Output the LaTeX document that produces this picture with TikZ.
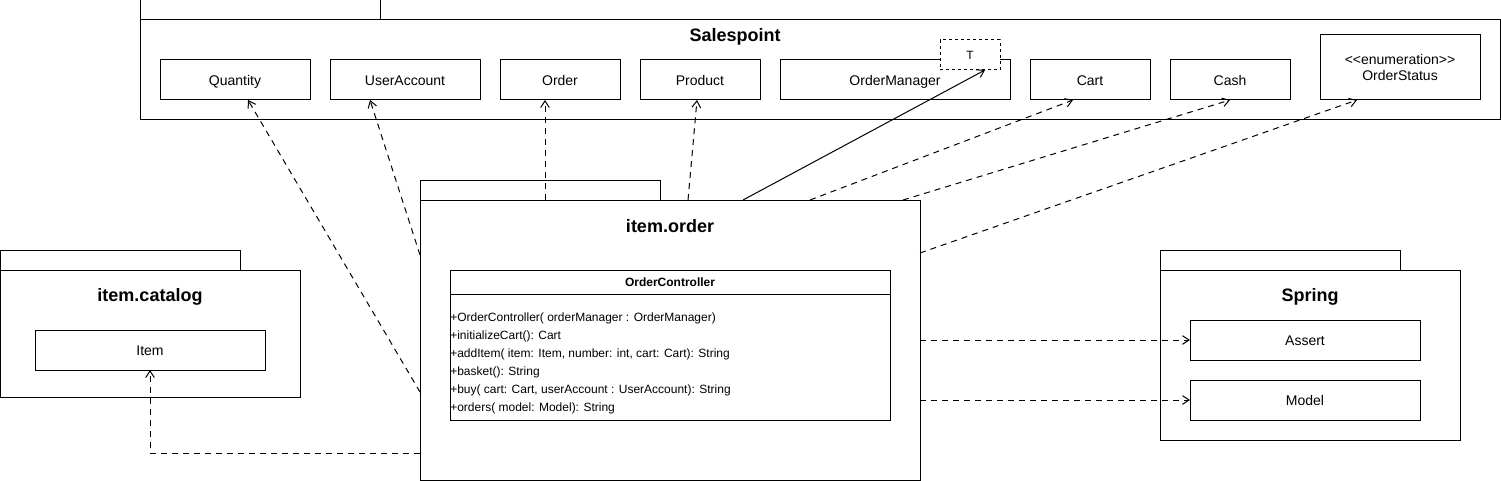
\documentclass[tikz,border=0pt]{standalone}
\usepackage{fontspec}
\setmainfont{Liberation Sans}
\usetikzlibrary{arrows.meta,calc}
\begin{document}
\begin{tikzpicture}[x=0.75pt,y=-0.75pt,
  lw/.style={line width=0.75pt},
  sz/.style 2 args={minimum width=#1*0.75pt,minimum height=#2*0.75pt},
  box/.style={draw,lw,rectangle,inner sep=0pt,outer sep=0pt,fill=white,align=center,
    font=\fontsize{10.5pt}{12.6pt}\selectfont},
  onel/.style={text height=10.6pt,text depth=2.2pt},
  pkgtitle/.style={inner sep=0pt,font=\bfseries\fontsize{13.5pt}{16pt}\selectfont},
  dep/.style={lw,dash pattern=on 4.5pt off 3.75pt,
    -{Straight Barb[length=5pt,width=6.5pt,line width=0.75pt]}},
  assoc/.style={lw,-{Straight Barb[length=5pt,width=6.5pt,line width=0.75pt]}},
  tparam/.style={box,dash pattern=on 2.25pt off 2.25pt,font=\fontsize{9pt}{11pt}\selectfont,
    text height=8.6pt,text depth=1.9pt}
]
\useasboundingbox (0,0) rectangle (1501,481);

% ---------- Salespoint package ----------
\node[box,sz={240}{20}] (sptab) at (260,10) {};
\node[box,sz={1360}{100}] (sp) at (820,70) {};
\node[pkgtitle] (sptitle) at (735,37) {Salespoint};
\node[box,onel,sz={150}{40}] (qty) at (235,80) {Quantity};
\node[box,onel,sz={150}{40}] (ua) at (405,80) {UserAccount};
\node[box,onel,sz={120}{40}] (ord) at (560,80) {Order};
\node[box,onel,sz={120}{40}] (prod) at (700,80) {Product};
\node[box,onel,sz={230}{40}] (om) at (895,80) {OrderManager};
\node[tparam,sz={60}{30}] (tbox) at (970,55) {T};
\node[box,onel,sz={120}{40}] (cart) at (1090,80) {Cart};
\node[box,onel,sz={120}{40}] (cash) at (1230,80) {Cash};
\node[box,sz={160}{65}] (os) at (1400,67.5) {<\kern0pt<enumeration>\kern0pt>\\OrderStatus};

% ---------- item.catalog package ----------
\node[box,sz={240}{20}] (cattab) at (120,260) {};
\node[box,sz={300}{127}] (cat) at (150,333.5) {};
\node[pkgtitle] (cattitle) at (150,297) {item.catalog};
\node[box,onel,sz={230}{40}] (item) at (150,350) {Item};

% ---------- Spring package ----------
\node[box,sz={240}{20}] (sprtab) at (1280,260) {};
\node[box,sz={300}{170}] (spr) at (1310,355) {};
\node[pkgtitle] (sprtitle) at (1310,297) {Spring};
\node[box,onel,sz={230}{40}] (assert) at (1305,340) {Assert};
\node[box,onel,sz={230}{40}] (model) at (1305,400) {Model};

% ---------- item.order package ----------
\node[box,sz={240}{20}] (iotab) at (540,190) {};
\node[box,sz={500}{280}] (io) at (670,340) {};
\node[pkgtitle] (iotitle) at (670,226) {item.order};
\node[box,sz={440}{150}] (oc) at (670,345) {};
\draw[lw] ([yshift=-18pt]oc.north west) -- ([yshift=-18pt]oc.north east);
\node[inner sep=0pt,font=\bfseries\fontsize{9pt}{11pt}\selectfont] (octitle) at (670,282) {OrderController};
\node[anchor=west,inner sep=0pt,align=left,font=\fontsize{9pt}{13.5pt}\selectfont] (ocops) at (450,363)
  {+OrderController( orderManager : OrderManager)\\
   +initializeCart(): Cart\\
   +addItem( item: Item, number: int, cart: Cart): String\\
   +basket(): String\\
   +buy( cart: Cart, userAccount : UserAccount): String\\
   +orders( model: Model): String};

% ---------- connectors ----------
\draw[dep] ([yshift=-39pt]io.west) -- ([xshift=9.75pt]qty.south);
\draw[dep] ([yshift=63.75pt]io.west) -- ([xshift=-26.25pt]ua.south);
\draw[dep] ([xshift=-93.75pt]io.north) -- ([xshift=-11.25pt]ord.south);
\draw[dep] ([xshift=13.5pt]io.north) -- ([xshift=-2.25pt]prod.south);
\draw[assoc] ([xshift=54.75pt]io.north) -- ([xshift=11.25pt]tbox.south);
\draw[dep] ([xshift=105pt]io.north) -- ([xshift=-12.75pt]cart.south);
\draw[dep] ([xshift=174.75pt]io.north) -- (cash.south);
\draw[dep] ([yshift=65.25pt]io.east) -- ([xshift=-32.25pt]os.south);
\draw[dep] (io.east) -- (assert.west);
\draw[dep] (io.east |- model.west) -- (model.west);
\draw[dep] ([yshift=-84.75pt]io.west) -| (item.south);
\end{tikzpicture}
\end{document}
